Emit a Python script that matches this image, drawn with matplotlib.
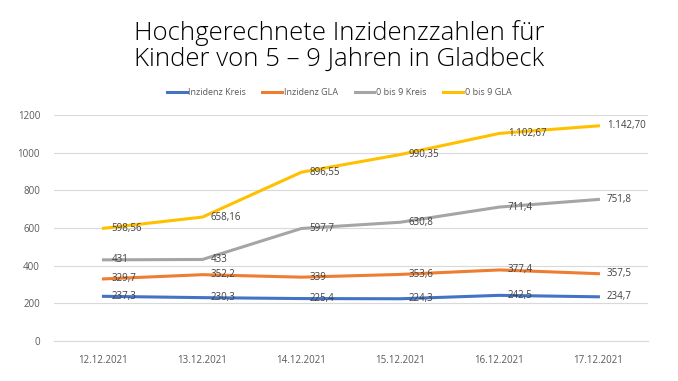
import matplotlib.pyplot as plt
import numpy as np

dates = ["12.12.2021", "13.12.2021", "14.12.2021", "15.12.2021", "16.12.2021", "17.12.2021"]
inzidenz_kreis = [237.3, 230.3, 225.4, 224.3, 242.5, 234.7]
inzidenz_gla = [329.7, 352.2, 339, 353.6, 377.4, 357.5]
kreis_0_9 = [431, 433, 597.7, 630.8, 711.4, 751.8]
gla_0_9 = [598.56, 658.16, 896.55, 990.35, 1102.67, 1142.70]

labels_kreis = ["237,3", "230,3", "225,4", "224,3", "242,5", "234,7"]
labels_gla = ["329,7", "352,2", "339", "353,6", "377,4", "357,5"]
labels_k09 = ["431", "433", "597,7", "630,8", "711,4", "751,8"]
labels_g09 = ["598,56", "658,16", "896,55", "990,35", "1.102,67", "1.142,70"]

series = [
    ("Inzidenz Kreis", inzidenz_kreis, labels_kreis, "#4472C4"),
    ("Inzidenz GLA", inzidenz_gla, labels_gla, "#ED7D31"),
    ("0 bis 9 Kreis", kreis_0_9, labels_k09, "#A5A5A5"),
    ("0 bis 9 GLA", gla_0_9, labels_g09, "#FFC000"),
]

plt.rcParams['font.family'] = ['Open Sans', 'DejaVu Sans']

fig = plt.figure(figsize=(6.78, 3.81), dpi=100)
ax = fig.add_axes([0.0796, 0.105, 0.876, 0.593])

x = np.arange(len(dates))
for name, vals, labs, col in series:
    ax.plot(x, vals, color=col, lw=2.2, label=name, solid_joinstyle='round')
    for xi, v, t in zip(x, vals, labs):
        ax.annotate(t, (xi, v), xytext=(6, 0), textcoords='offset points',
                    ha='left', va='center', fontsize=7, color='#404040')

ax.set_xlim(-0.5, len(dates) - 0.5)
ax.set_ylim(0, 1200)
ax.set_yticks(np.arange(0, 1201, 200))
ax.set_xticks(x)
ax.set_xticklabels(dates)
ax.tick_params(axis='both', length=0, labelsize=7, labelcolor='#595959')
ax.tick_params(axis='x', pad=10)
ax.tick_params(axis='y', pad=10)
ax.grid(axis='y', color='#D9D9D9', lw=0.8)
ax.set_axisbelow(True)
for s in ax.spines.values():
    s.set_visible(False)
ax.spines['bottom'].set_visible(True)
ax.spines['bottom'].set_color('#D9D9D9')

fig.text(0.5, 0.88, "Hochgerechnete Inzidenzzahlen für\nKinder von 5 – 9 Jahren in Gladbeck",
         ha='center', va='center', fontsize=18.5, fontweight='light', color='#000000',
         linespacing=1.05)

fig.legend(loc='center', bbox_to_anchor=(0.5, 0.757), ncol=4, frameon=False,
           fontsize=6.5, handlelength=2.2, handletextpad=0.2, columnspacing=1.8,
           labelcolor='#595959')

fig.savefig("out.png", dpi=100)
